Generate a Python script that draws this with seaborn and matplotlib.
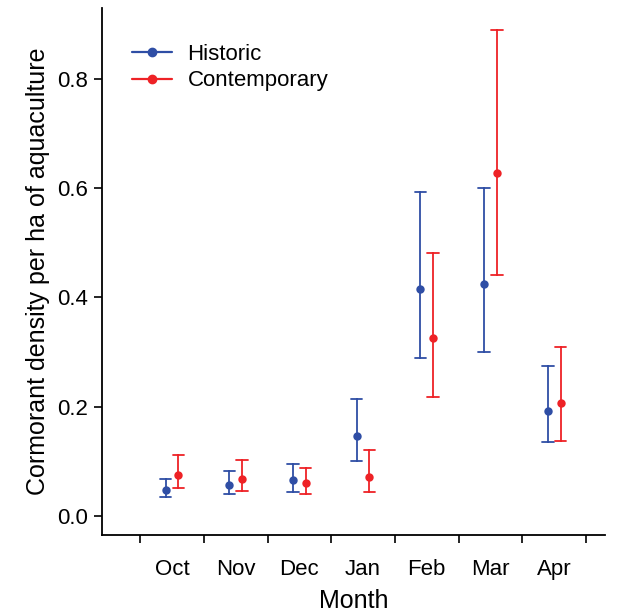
import pandas as pd
import numpy as np
import seaborn as sns
import matplotlib.pyplot as plt
from matplotlib.lines import Line2D

# values
months = ["Oct", "Nov", "Dec", "Jan", "Feb", "Mar", "Apr"]
periods = ["Historic", "Contemporary"]

hist_est = [0.048, 0.057, 0.065, 0.147, 0.415, 0.424, 0.193]
hist_low = [0.034, 0.040, 0.044, 0.101, 0.290, 0.300, 0.135]
hist_high = [0.067, 0.083, 0.095, 0.214, 0.593, 0.600, 0.275]

cont_est = [0.075, 0.068, 0.060, 0.072, 0.325, 0.628, 0.206]
cont_low = [0.051, 0.046, 0.040, 0.043, 0.218, 0.442, 0.138]
cont_high = [0.111, 0.103, 0.087, 0.121, 0.482, 0.889, 0.309]

colors = {"Historic": "#2F4EA5", "Contemporary": "#EE2226"}

# three rows per group (low, estimate, high): median gives the estimate,
# min/max give the interval
rows = []
for period, est, low, high in [("Historic", hist_est, hist_low, hist_high),
                               ("Contemporary", cont_est, cont_low, cont_high)]:
    for m, e, l, h in zip(months, est, low, high):
        for v in (l, e, h):
            rows.append({"Month": m, "Period": period, "density": v})
df = pd.DataFrame(rows)

sns.set_style("ticks")
plt.rcParams["font.family"] = ["Liberation Sans", "DejaVu Sans"]
plt.rcParams["text.color"] = "black"
plt.rcParams["axes.labelcolor"] = "black"
plt.rcParams["xtick.color"] = "black"
plt.rcParams["ytick.color"] = "black"
plt.rcParams["axes.edgecolor"] = "black"

fig = plt.figure(figsize=(6.29, 6.15), dpi=100)
ax = fig.add_axes([0.162, 0.130, 0.800, 0.857])

sns.pointplot(data=df, x="Month", y="density", hue="Period",
              order=months, hue_order=periods, palette=colors,
              estimator=np.median, errorbar=lambda v: (v.min(), v.max()),
              dodge=0.2, linestyle="none", markers="o", markersize=4,
              capsize=0.18, err_kws={"linewidth": 1.3}, ax=ax, legend=False)

ax.set_xlim(-1.1, 6.8)
ax.set_ylim(-0.035, 0.93)
ax.set_yticks([0.0, 0.2, 0.4, 0.6, 0.8])
ax.set_yticklabels(["0.0", "0.2", "0.4", "0.6", "0.8"])

# ticks sit between months, labels at the month centres
ax.set_xticks(np.arange(-0.5, 7.0, 1.0))
ax.set_xticklabels([])
ax.set_xticks(range(len(months)), minor=True)
ax.set_xticklabels(months, minor=True)
ax.tick_params(axis="x", which="minor", length=0, pad=17, labelsize=16)
ax.tick_params(axis="x", which="major", length=6, width=1.2, direction="out")
ax.tick_params(axis="y", length=6, width=1.2, labelsize=16, pad=4)

for s in ["top", "right"]:
    ax.spines[s].set_visible(False)
for s in ["left", "bottom"]:
    ax.spines[s].set_linewidth(1.3)

ax.set_xlabel("Month", fontsize=18, labelpad=7)
ax.set_ylabel("Cormorant density per ha of aquaculture", fontsize=18, labelpad=5)

handles = [Line2D([], [], color=colors[p], marker="o", markersize=6, linewidth=1.6)
           for p in periods]
ax.legend(handles, periods, loc="upper left", bbox_to_anchor=(0.02, 0.97),
          frameon=False, fontsize=16, handlelength=1.8, handletextpad=0.7,
          labelspacing=0.25)

fig.savefig("out.png", dpi=100)
